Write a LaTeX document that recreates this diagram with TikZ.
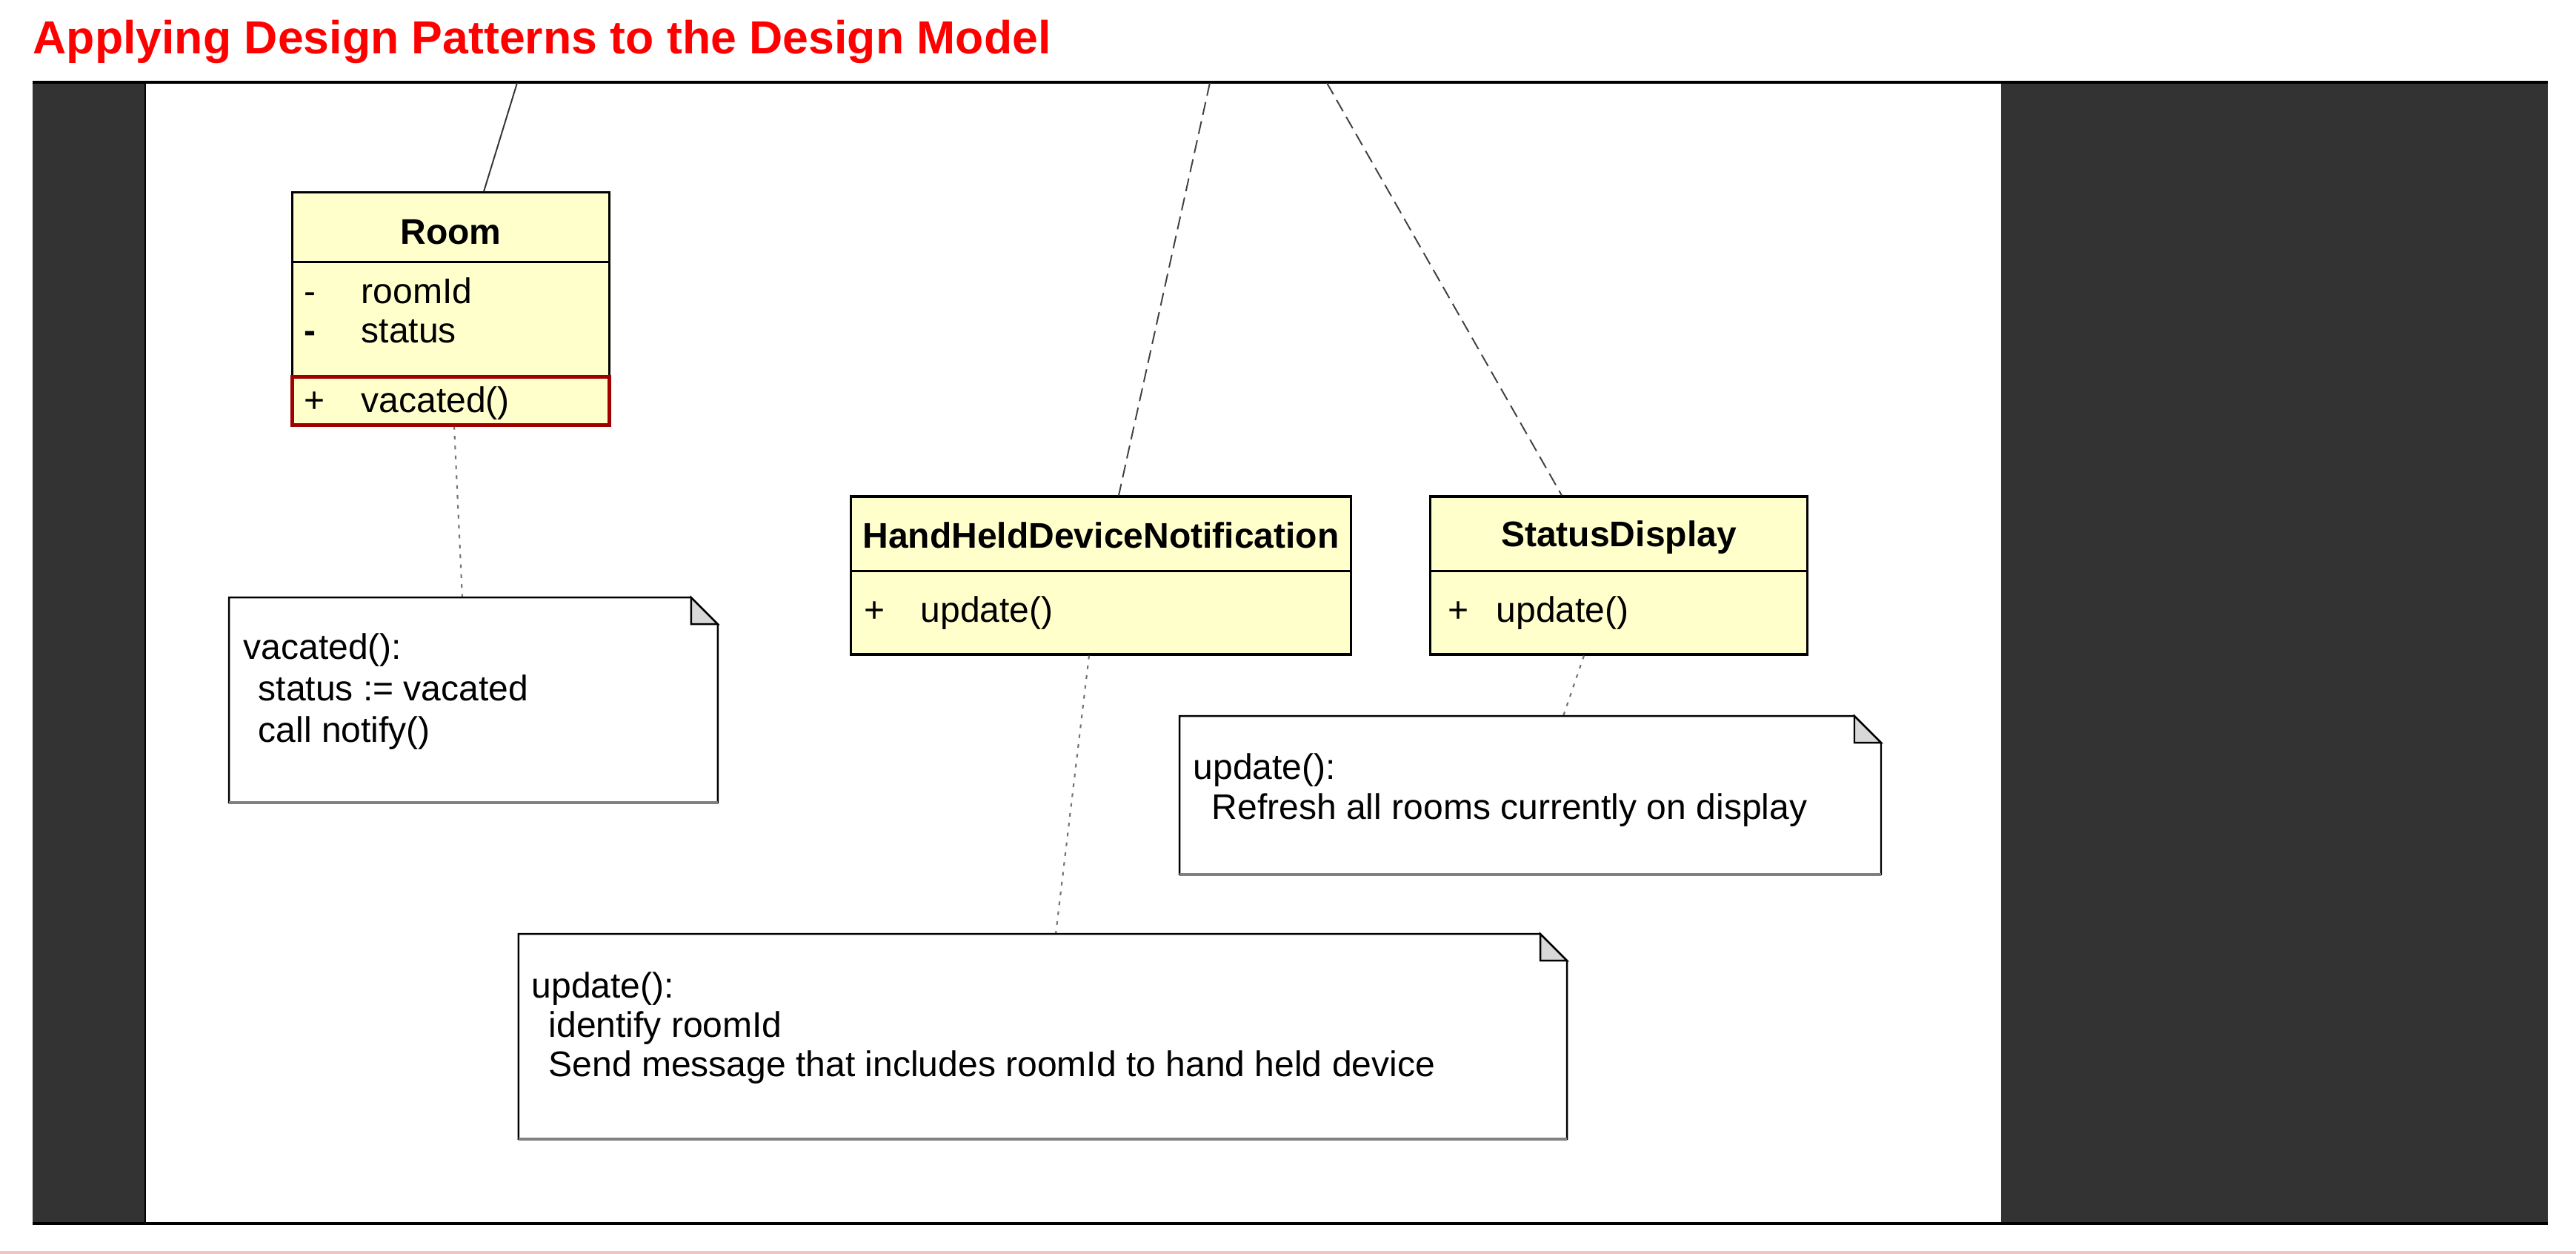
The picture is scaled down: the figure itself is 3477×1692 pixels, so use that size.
\documentclass[tikz,border=0pt]{standalone}
\usepackage{fontspec}
\setmainfont{Liberation Sans}
\usetikzlibrary{calc}
\definecolor{frameDark}{HTML}{333333}
\definecolor{classFill}{HTML}{FFFFCC}
\definecolor{methRed}{HTML}{A00000}
\definecolor{earGray}{HTML}{D8D8D8}
\definecolor{pinkLine}{HTML}{F6C3C3}
\definecolor{titleRed}{HTML}{FF0000}
\begin{document}
\begin{tikzpicture}[x=0.01cm,y=-0.01cm,
  classbox/.style={draw=black, line width=0.9pt, fill=classFill, rectangle, inner sep=0pt},
  notebox/.style={rectangle, inner sep=0pt},
  txt/.style={inner sep=0pt, anchor=base west, font=\fontsize{13.66}{16}\selectfont},
  cname/.style={inner sep=0pt, anchor=base, font=\fontsize{13.66}{16}\selectfont\bfseries},
  assoc/.style={draw=black!80, line width=0.55pt},
  dashlink/.style={draw=black!75, line width=0.55pt, dash pattern=on 5pt off 2.5pt},
  dotlink/.style={draw=black!55, line width=0.6pt, dash pattern=on 1.4pt off 2.4pt},
  sepline/.style={draw=black, line width=0.9pt},
  noteedge/.style={draw=black, line width=0.7pt},
]
\useasboundingbox (0,0) rectangle (3477,1692);
\fill[white] (0,0) rectangle (3477,1692);
% title
\node[anchor=base west, inner sep=0pt, text=titleRed, font=\fontsize{17.8}{20}\selectfont\bfseries] (title) at (44,73) {Applying Design Patterns to the Design Model};
% frame
\fill[frameDark] (44,111) rectangle (3439,1651);
\fill[white] (195,111) rectangle (2701,1651);
\draw[black, line width=0.6pt] (196,111) -- (196,1651);
\draw[black, line width=1.1pt] (44,111) -- (3439,111);
\draw[black, line width=1.1pt] (44,1651) -- (3439,1651);
\fill[pinkLine] (0,1688) rectangle (3477,1692);

% free ends at the top edge of the panel
\coordinate (topA) at (698,112);
\coordinate (topB) at (1633,112);
\coordinate (topC) at (1791,112);

% class boxes
\node[classbox, minimum width=4.27cm, minimum height=3.13cm] (room) at (608.5,416.5) {};
\node[classbox, minimum width=6.74cm, minimum height=2.13cm] (hh) at (1486,776.5) {};
\node[classbox, minimum width=5.08cm, minimum height=2.13cm] (sd) at (2185,776.5) {};

% notes (frames)
\node[notebox, minimum width=6.58cm, minimum height=2.75cm] (n1) at (639,944.5) {};
\node[notebox, minimum width=9.45cm, minimum height=2.12cm] (n2) at (2065.5,1073) {};
\node[notebox, minimum width=14.13cm, minimum height=2.75cm] (n3) at (1407.5,1398.5) {};

% connectors
\draw[assoc] (topA) -- ([xshift=0.445cm]room.north);
\draw[dashlink] (topB) -- ([xshift=0.24cm]hh.north);
\draw[dashlink] (topC) -- ([xshift=-0.77cm]sd.north);
\draw[dotlink] ([xshift=0.045cm]room.south) -- ([xshift=-0.15cm]n1.north);
\draw[dotlink] ([xshift=-0.16cm]hh.south) -- ([xshift=0.175cm]n3.north);
\draw[dotlink] ([xshift=-0.47cm]sd.south) -- ([xshift=0.445cm]n2.north);

% compartments
\draw[sepline] ($(room.north west)+(0,95)$) -- ($(room.north east)+(0,95)$);
\draw[methRed, line width=1.4pt] ($(room.south west)+(1,-66)$) rectangle ($(room.south east)+(-1,-1)$);
\draw[sepline] ($(hh.north west)+(0,102)$) -- ($(hh.north east)+(0,102)$);
\draw[sepline] ($(sd.north west)+(0,102)$) -- ($(sd.north east)+(0,102)$);

% note shapes
\foreach \n in {n1,n2,n3} {
  \draw[noteedge, fill=white] (\n.north west) -- ($(\n.north east)+(-36,0)$) -- ($(\n.north east)+(0,36)$) -- (\n.south east) -- (\n.south west) -- cycle;
  \draw[noteedge, fill=earGray] ($(\n.north east)+(-36,0)$) -- ($(\n.north east)+(-36,36)$) -- ($(\n.north east)+(0,36)$) -- cycle;
  \draw[gray, line width=1.2pt] (\n.south west) -- (\n.south east);
}

% Room texts
\node[cname] (roomName) at (608.5,330) {Room};
\node[txt] (roomA1s) at (410,410) {-};
\node[txt] (roomA1) at (487,410) {roomId};
\node[txt, font=\fontsize{13.66}{16}\selectfont\bfseries] (roomA2s) at (410,463) {-};
\node[txt] (roomA2) at (487,463) {status};
\node[txt] (roomM1s) at (410,557) {+};
\node[txt] (roomM1) at (487,557) {vacated()};

% HandHeldDeviceNotification texts
\node[cname] (hhName) at (1486,740) {HandHeldDeviceNotification};
\node[txt] (hhM1s) at (1166,840) {+};
\node[txt] (hhM1) at (1242,840) {update()};

% StatusDisplay texts
\node[cname] (sdName) at (2185,738) {StatusDisplay};
\node[txt] (sdM1s) at (1954,840) {+};
\node[txt] (sdM1) at (2019,840) {update()};

% note texts
\node[txt] (n1l1) at (328,890) {vacated():};
\node[txt] (n1l2) at (348,946) {status := vacated};
\node[txt] (n1l3) at (348,1002) {call notify()};

\node[txt] (n2l1) at (1610,1052) {update():};
\node[txt] (n2l2) at (1635,1106) {Refresh all rooms currently on display};

\node[txt] (n3l1) at (717,1347) {update():};
\node[txt] (n3l2) at (740,1400) {identify roomId};
\node[txt] (n3l3) at (740,1453) {Send message that includes roomId to hand held device};
\end{tikzpicture}
\end{document}
